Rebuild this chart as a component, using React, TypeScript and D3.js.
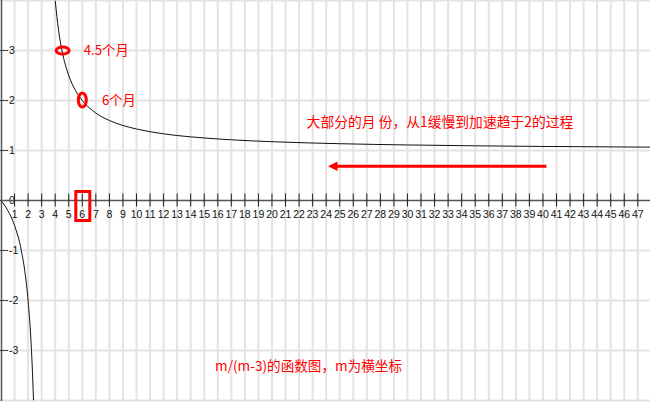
import React from "react";
import * as d3 from "d3";

const W = 650;
const H = 402;

const xTicks = d3.range(1, 48);
const yTicks = [-3, -2, -1, 0, 1, 2, 3];
const gridY = [-4, -3, -2, -1, 1, 2, 3, 4];

const leftM = [0, 0.5, 1, 1.5, 1.8, 2, 2.2, 2.3, 2.4];
const leftV = [0, -0.2, -0.5, -1, -1.5, -2, -2.75, -3.29, -4];
const rightM = [4, 4.25, 4.5, 5, 5.5, 6, 7, 8, 9, 10, 12, 14, 17, 20, 25, 30, 35, 40, 48];
const rightV = [4, 3.4, 3, 2.5, 2.2, 2, 1.75, 1.6, 1.5, 1.43, 1.333, 1.273, 1.214, 1.176, 1.136, 1.111, 1.094, 1.081, 1.067];

const notes = [
  { text: "4.5个月", m: 6.1, v: 3, size: 13.3 },
  { text: "6个月", m: 7.45, v: 2, size: 13.3 },
  { text: "大部分的月 份，从1缓慢到加速趋于2的过程", m: 32.4, v: 1.57, size: 13.8 },
  { text: "m/(m-3)的函数图，m为横坐标", m: 22.7, v: -3.31, size: 13.6 },
];

export default function App() {
  const x = d3.scaleLinear().domain([0, 47.9]).range([1, 650]);
  const y = d3.scaleLinear().domain([-4, 4]).range([400.5, 0.5]);
  const line = d3
    .line<[number, number]>()
    .x((d) => x(d[0]))
    .y((d) => y(d[1]))
    .curve(d3.curveMonotoneX);
  const left = line(leftM.map((m, i) => [m, leftV[i]] as [number, number])) || "";
  const right = line(rightM.map((m, i) => [m, rightV[i]] as [number, number])) || "";
  const font = "'Noto Sans CJK SC', 'Noto Sans', sans-serif";
  const y0 = y(0);
  return (
    <svg
      width={W}
      height={H}
      style={{ position: "absolute", left: 0, top: 0, background: "#fff" }}
    >
      <defs>
        <clipPath id="plot">
          <rect x={1} y={0.5} width={649} height={400} />
        </clipPath>
        <marker
          id="arr"
          viewBox="0 0 10 10"
          refX={2}
          refY={5}
          markerWidth={3.2}
          markerHeight={3.2}
          orient="auto"
        >
          <path d="M0,0 L10,5 L0,10 z" fill="#ff0000" />
        </marker>
      </defs>
      {xTicks.map((t) => (
        <line key={"gx" + t} x1={x(t)} x2={x(t)} y1={0} y2={401} stroke="#e3e3e3" strokeWidth={2} />
      ))}
      {gridY.map((t) => (
        <line key={"gy" + t} x1={0} x2={W} y1={y(t)} y2={y(t)} stroke="#e3e3e3" strokeWidth={2} />
      ))}
      {/* y axis */}
      <line x1={1.5} x2={1.5} y1={0} y2={401} stroke="#555" strokeWidth={1.5} />
      {yTicks.map((t) => (
        <g key={"yt" + t}>
          {t !== 0 && <line x1={0} x2={8} y1={y(t)} y2={y(t)} stroke="#444" strokeWidth={1} />}
          <text
            x={9}
            y={y(t)}
            dy="0.35em"
            fontSize={10.5}
            fontFamily="'Liberation Sans', Arial, sans-serif"
            fill="#111"
          >
            {t < 0 ? "-" + Math.abs(t) : String(t)}
          </text>
        </g>
      ))}
      {/* x axis */}
      <line x1={0} x2={W} y1={y0} y2={y0} stroke="#555" strokeWidth={1.7} />
      {xTicks.map((t) => (
        <g key={"xt" + t}>
          <line x1={x(t)} x2={x(t)} y1={y0 - 7} y2={y0 + 6} stroke="#222" strokeWidth={1} />
          <text
            x={x(t)}
            y={217.5}
            textAnchor="middle"
            fontSize={10.5}
            fontFamily="'Liberation Sans', Arial, sans-serif"
            fill="#111"
          >
            {t}
          </text>
        </g>
      ))}
      <g clipPath="url(#plot)">
        <path d={left} fill="none" stroke="#111" strokeWidth={1} />
        <path d={right} fill="none" stroke="#111" strokeWidth={1} />
      </g>
      {/* highlights */}
      <ellipse cx={x(4.55)} cy={y(3)} rx={6.5} ry={3.6} fill="none" stroke="#ff0000" strokeWidth={3} />
      <ellipse cx={x(6)} cy={y(2.01)} rx={4} ry={7} fill="none" stroke="#ff0000" strokeWidth={3} />
      <rect x={x(6) - 6.5} y={191.5} width={14} height={29} fill="none" stroke="#ff0000" strokeWidth={3} />
      <line
        x1={x(40.25)}
        x2={x(24.7)}
        y1={y(0.685)}
        y2={y(0.685)}
        stroke="#ff0000"
        strokeWidth={3}
        markerEnd="url(#arr)"
      />
      {notes.map((n, i) => (
        <text
          key={"n" + i}
          x={x(n.m)}
          y={y(n.v)}
          dy="0.36em"
          fontSize={n.size}
          fontFamily={font}
          fill="#ff0000"
          textAnchor={i >= 2 ? "middle" : "start"}
        >
          {n.text}
        </text>
      ))}
    </svg>
  );
}
